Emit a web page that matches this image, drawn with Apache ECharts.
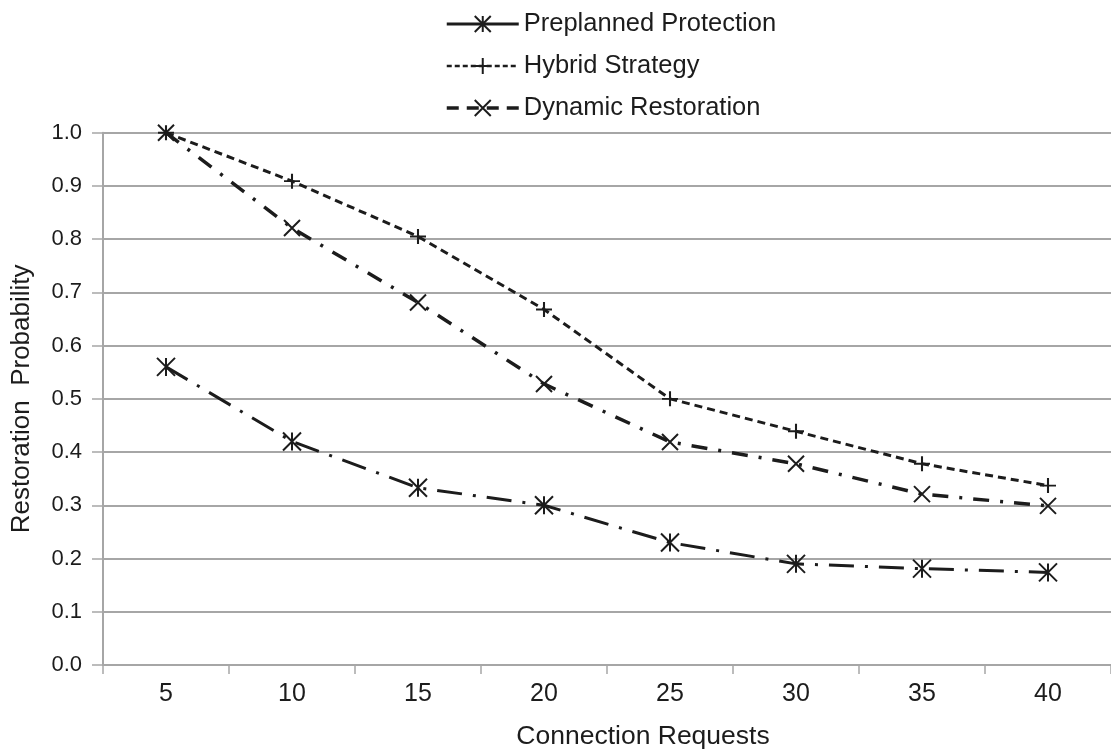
<!DOCTYPE html>
<html>
<head>
<meta charset="utf-8">
<script src="https://cdn.jsdelivr.net/npm/echarts@6/dist/echarts.min.js"></script>
<style>
  html, body { margin: 0; padding: 0; background: #ffffff; }
  #chart { width: 1111px; height: 755px; }
</style>
</head>
<body>
<div id="chart"></div>
<script>
// Connection request counts on the x axis
const categories = ['5', '10', '15', '20', '25', '30', '35', '40'];

// Restoration probability per strategy
const preplanned = [0.56, 0.42, 0.333, 0.30, 0.23, 0.19, 0.181, 0.174];
const hybrid     = [1.00, 0.909, 0.805, 0.668, 0.50, 0.439, 0.378, 0.337];
const dynamic    = [1.00, 0.821, 0.681, 0.528, 0.419, 0.378, 0.321, 0.299];

const seriesNames = ['Preplanned Protection', 'Hybrid Strategy', 'Dynamic Restoration'];

// y axis range and step
const yMin = 0, yMax = 1.0, yStep = 0.1;

const ink = '#1c1c1c';
const gridGray = '#a6a6a6';
const fontFamily = '"Liberation Sans", Arial, sans-serif';

// stroke-only marker shapes
const asterisk = 'path://M0,0L20,20M0,20L20,0M10,0L10,20';
const cross = 'path://M0,0L20,20M0,20L20,0';
const plus = 'path://M10,0L10,20M0,10L20,10';

const markerStyle = { color: 'none', borderColor: ink, borderWidth: 2 };

const chart = echarts.init(document.getElementById('chart'), null, { renderer: 'canvas' });

chart.setOption({
  backgroundColor: '#ffffff',
  animation: false,
  textStyle: { fontFamily: fontFamily, color: ink },
  legend: {
    orient: 'vertical',
    left: 440,
    top: 6,
    itemWidth: 72,
    itemHeight: 20,
    itemGap: 16,
    textStyle: { fontSize: 25.5, color: ink, fontFamily: fontFamily },
    data: [
      { name: seriesNames[0], lineStyle: { type: 'solid', width: 3 } },
      { name: seriesNames[1], lineStyle: { type: [5, 3], width: 2.5 } },
      { name: seriesNames[2], lineStyle: { type: [12, 8], width: 3.5 } }
    ]
  },
  grid: { left: 103, right: -4, top: 132.7, bottom: 87.5 },
  xAxis: {
    type: 'category',
    data: categories,
    boundaryGap: true,
    name: 'Connection Requests',
    nameLocation: 'middle',
    nameGap: 58,
    nameTextStyle: { fontSize: 26.5, color: ink, fontFamily: fontFamily, padding: [0, 0, 0, 72] },
    axisLine: { show: true, lineStyle: { color: gridGray, width: 2 } },
    axisTick: { show: true, length: 9, alignWithLabel: false, lineStyle: { color: gridGray, width: 1.5 } },
    axisLabel: { fontSize: 25, color: ink, margin: 17, fontFamily: fontFamily },
    splitLine: { show: false }
  },
  yAxis: {
    type: 'value',
    min: yMin,
    max: yMax,
    interval: yStep,
    name: 'Restoration  Probability',
    nameLocation: 'middle',
    nameGap: 68,
    nameTextStyle: { fontSize: 26, color: ink, fontFamily: fontFamily },
    axisLine: { show: true, lineStyle: { color: gridGray, width: 2 } },
    axisTick: { show: true, length: 11, lineStyle: { color: gridGray, width: 1.5 } },
    axisLabel: {
      fontSize: 22, color: ink, margin: 21, fontFamily: fontFamily,
      formatter: v => v.toFixed(1)
    },
    splitLine: { show: true, lineStyle: { color: gridGray, width: 2 } }
  },
  series: [
    {
      name: seriesNames[0],
      type: 'line',
      data: preplanned,
      symbol: asterisk,
      symbolSize: 18,
      itemStyle: markerStyle,
      lineStyle: { color: ink, width: 3, type: [25, 11, 3, 11] },
      z: 3
    },
    {
      name: seriesNames[1],
      type: 'line',
      data: hybrid,
      symbol: plus,
      symbolSize: [16, 15],
      itemStyle: markerStyle,
      lineStyle: { color: ink, width: 3, type: [8, 5] },
      z: 3
    },
    {
      name: seriesNames[2],
      type: 'line',
      data: dynamic,
      symbol: cross,
      symbolSize: 16,
      itemStyle: markerStyle,
      lineStyle: { color: ink, width: 3.5, type: [16, 11, 3, 11] },
      z: 3
    }
  ]
});
</script>
</body>
</html>
